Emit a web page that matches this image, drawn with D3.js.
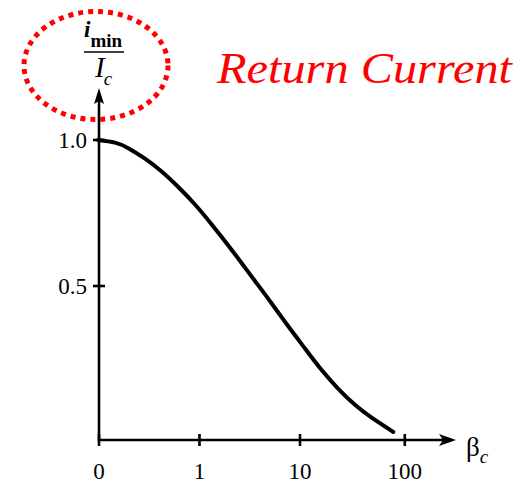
<!DOCTYPE html>
<html>
<head>
<meta charset="utf-8">
<script src="https://cdn.jsdelivr.net/npm/d3@7"></script>
<style>
  html, body { margin: 0; padding: 0; background: #fff; }
  svg { display: block; }
</style>
</head>
<body>
<svg id="chart" width="529" height="484"></svg>
<script>
// Normalised minimum return current versus the Stewart–McCumber parameter
const betaValues = [0, 0.0563, 0.1175, 0.2243, 0.378, 0.598, 0.917, 1.376, 2.034, 2.984,
                    4.034, 5.449, 7.888, 11.42, 16.50, 23.79, 34.31, 49.49, 79.45];
const iminRatio  = [1.0, 0.991, 0.972, 0.936, 0.892, 0.839, 0.779, 0.711, 0.639, 0.563,
                    0.502, 0.440, 0.362, 0.286, 0.212, 0.148, 0.093, 0.049, 0.0];

const xTickValues = [0, 1, 10, 100];
const xTickLabels = ["0", "1", "10", "100"];
const yTickValues = [0.5, 1.0];
const yTickLabels = ["0.5", "1.0"];

const SERIF = '"Liberation Serif", "Times New Roman", "DejaVu Serif", serif';

const svg = d3.select("#chart");

const originX = 98, axisY = 440;
const x = d3.scaleSymlog().constant(0.125).domain([0, 100]).range([originX, 403.8]);
const y = d3.scaleLinear().domain([0, 1]).range([432, 140]);

const axisW = 2.6;

// y axis with arrowhead
svg.append("line")
  .attr("x1", originX + 1).attr("x2", originX + 1)
  .attr("y1", axisY + 1).attr("y2", 100)
  .attr("stroke", "#000").attr("stroke-width", axisW);
svg.append("path")
  .attr("d", `M${originX + 1},88 L${originX + 6},104 L${originX + 1},101 L${originX - 4},104 Z`)
  .attr("fill", "#000");

// x axis with arrowhead
svg.append("line")
  .attr("x1", originX).attr("x2", 452)
  .attr("y1", axisY).attr("y2", axisY)
  .attr("stroke", "#000").attr("stroke-width", axisW);
svg.append("path")
  .attr("d", `M456,${axisY} L439,${axisY - 6} L443,${axisY} L439,${axisY + 6} Z`)
  .attr("fill", "#000");

// x ticks
svg.selectAll(".xtick").data(xTickValues).join("line")
  .attr("x1", d => x(d) + 1).attr("x2", d => x(d) + 1)
  .attr("y1", axisY - 6).attr("y2", axisY + 6)
  .attr("stroke", "#000").attr("stroke-width", axisW);
svg.selectAll(".xlab").data(xTickValues).join("text")
  .attr("x", d => x(d) + 1).attr("y", 479)
  .attr("text-anchor", "middle")
  .attr("font-family", SERIF)
  .attr("font-size", 23)
  .text((d, i) => xTickLabels[i]);

// y ticks
svg.selectAll(".ytick").data(yTickValues).join("line")
  .attr("x1", originX - 5).attr("x2", originX + 7)
  .attr("y1", d => y(d)).attr("y2", d => y(d))
  .attr("stroke", "#000").attr("stroke-width", axisW);
svg.selectAll(".ylab").data(yTickValues).join("text")
  .attr("x", 87).attr("y", d => y(d) + 8)
  .attr("text-anchor", "end")
  .attr("font-family", SERIF)
  .attr("font-size", 23)
  .text((d, i) => yTickLabels[i]);

// curve
const line = d3.line()
  .x((d, i) => x(betaValues[i]))
  .y(d => y(d))
  .curve(d3.curveNatural);
svg.append("path")
  .datum(iminRatio)
  .attr("d", line)
  .attr("fill", "none")
  .attr("stroke", "#000")
  .attr("stroke-width", 4)
  .attr("stroke-linecap", "round");

// x axis label: beta_c
const bx = svg.append("text").attr("x", 466).attr("y", 456)
  .attr("font-family", SERIF).attr("font-size", 27);
bx.append("tspan").text("β");
bx.append("tspan").attr("font-style", "italic").attr("font-size", 19).attr("dy", 7).text("c");

// y axis label: i_min / I_c
const num = svg.append("text").attr("x", 84).attr("y", 37)
  .attr("font-family", SERIF).attr("font-weight", "bold");
num.append("tspan").attr("font-style", "italic").attr("font-size", 23).text("i");
num.append("tspan").attr("font-size", 19).attr("dy", 10).text("min");
svg.append("line")
  .attr("x1", 84).attr("x2", 124).attr("y1", 52).attr("y2", 52)
  .attr("stroke", "#000").attr("stroke-width", 1.6);
const den = svg.append("text").attr("x", 95).attr("y", 77)
  .attr("font-family", SERIF).attr("font-style", "italic");
den.append("tspan").attr("font-size", 29).text("I");
den.append("tspan").attr("font-size", 19).attr("dy", 8).attr("dx", -1).text("c");

// red dotted highlight around the y label
svg.append("ellipse")
  .attr("cx", 96).attr("cy", 65.5).attr("rx", 72).attr("ry", 54)
  .attr("fill", "none")
  .attr("stroke", "#ff0000")
  .attr("stroke-width", 5)
  .attr("stroke-dasharray", "5 5");

// title
svg.append("text")
  .attr("x", 217).attr("y", 83)
  .attr("font-family", SERIF)
  .attr("font-size", 45)
  .attr("font-style", "italic")
  .attr("textLength", 295)
  .attr("lengthAdjust", "spacingAndGlyphs")
  .attr("fill", "#ff0000")
  .text("Return Current");
</script>
</body>
</html>
